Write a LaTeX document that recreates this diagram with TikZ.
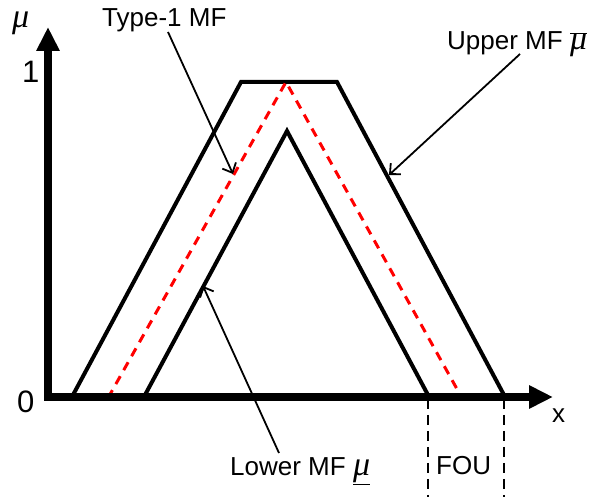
\documentclass[tikz,border=0pt]{standalone}
\usepackage{fontspec}
\setmainfont{Liberation Sans}
\newfontfamily\grk{Liberation Serif}
\newcommand{\mymu}{\hbox{\grk\itshape\fontsize{34}{40}\selectfont μ}}
\usetikzlibrary{arrows.meta}
\begin{document}
\begin{tikzpicture}[x=1pt,y=-1pt,
  mf/.style={line width=4pt, line join=miter},
  typeone/.style={red, line width=3pt, dash pattern=on 9pt off 7pt},
  axisline/.style={line width=8pt, line join=miter, {Triangle[length=24pt,width=22pt]}-{Triangle[length=24pt,width=22pt]}},
  foubound/.style={line width=2.5pt, dash pattern=on 10pt off 6pt},
  ann/.style={line width=1.8pt, -{Straight Barb[length=8pt,width=15pt,line width=1.8pt]}},
  lbl/.style={inner sep=0pt, anchor=base west, font=\fontsize{26}{30}\selectfont},
  num/.style={inner sep=0pt, anchor=base west, font=\fontsize{31}{36}\selectfont}]
\useasboundingbox (0,0) rectangle (590,497);
% key points
\coordinate (ytip) at (48,27);
\coordinate (origin) at (48,397);
\coordinate (xtip) at (553,397);
\coordinate (u1) at (73,395);
\coordinate (u2) at (241,82);
\coordinate (u3) at (337,82);
\coordinate (u4) at (504,395);
\coordinate (l1) at (145,395);
\coordinate (l2) at (287,131);
\coordinate (l3) at (428,395);
\coordinate (r1) at (108,398);
\coordinate (r2) at (286,82);
\coordinate (r3) at (462,398);
% curves
\draw[mf] (u1) -- (u2) -- (u3) -- (u4);
\draw[mf] (l1) -- (l2) -- (l3);
\draw[typeone] (r1) -- (r2) -- (r3);
% axes
\draw[axisline] (ytip) -- (origin) -- (xtip);
% FOU bounds
\coordinate (fa) at (428,399);
\coordinate (fb) at (428,497);
\coordinate (fc) at (504,399);
\coordinate (fd) at (504,497);
\draw[foubound] (fa) -- (fb);
\draw[foubound] (fc) -- (fd);
% labels
\node[lbl] (mulbl) at (12,28) {\mymu};
\node[num] (one) at (22,83) {1};
\node[num] (zero) at (17,413) {0};
\node[lbl] (xlbl) at (552,423) {x};
\node[lbl] (foulbl) at (436,475) {FOU};
\node[lbl] (t1lbl) at (102,27) {Type-1 MF};
\node[lbl] (uplbl) at (447,50) {Upper MF $\overline{\mymu}$};
\node[lbl] (lolbl) at (230,476) {Lower MF $\underline{\mymu}$};
% annotation arrows
\coordinate (t1s) at (168,32);
\coordinate (t1e) at (233,174);
\coordinate (ups) at (520,54);
\coordinate (upe) at (389,175);
\coordinate (los) at (279,453);
\coordinate (loe) at (203,286);
\draw[ann] (t1s) -- (t1e);
\draw[ann] (ups) -- (upe);
\draw[ann] (los) -- (loe);
\end{tikzpicture}
\end{document}
